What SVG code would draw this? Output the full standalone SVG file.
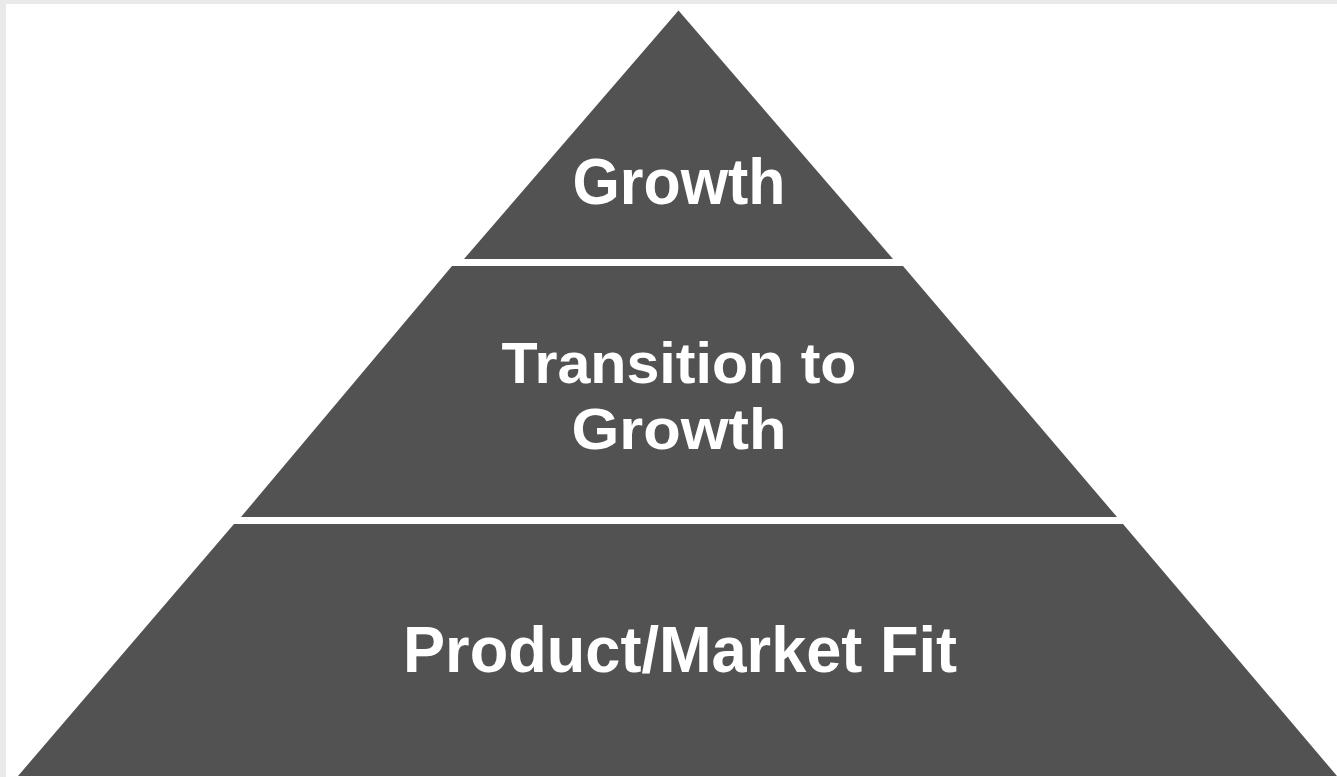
<svg xmlns="http://www.w3.org/2000/svg" width="1337" height="777" viewBox="0 0 1337 777">
  <style>
    .tier { fill: #525252; }
    .label { fill: #ffffff; font-family: "Liberation Sans", Arial, sans-serif; font-weight: bold; font-size: 64px; text-anchor: middle; }
    .label2 { font-size: 58px; }
    .frame { fill: #e9e9e9; }
  </style>
  <rect x="0" y="0" width="1337" height="777" fill="#ffffff"/>
  <rect class="frame" x="0" y="0" width="1337" height="4"/>
  <rect class="frame" x="0" y="0" width="6" height="777"/>
  <g id="tier-growth">
    <polygon class="tier" points="678.5,10.5 893,259 464,259"/>
    <text class="label" x="679" y="204" textLength="213" lengthAdjust="spacingAndGlyphs">Growth</text>
  </g>
  <g id="tier-transition">
    <polygon class="tier" points="452,266 903,266 1117,517 241,517"/>
    <text class="label label2" x="679" y="383" textLength="355" lengthAdjust="spacingAndGlyphs">Transition to</text>
    <text class="label label2" x="679" y="449" textLength="215" lengthAdjust="spacingAndGlyphs">Growth</text>
  </g>
  <g id="tier-pmf">
    <polygon class="tier" points="234,524 1123,524 1337,776 18,776"/>
    <text class="label" x="680" y="672" textLength="554" lengthAdjust="spacingAndGlyphs">Product/Market Fit</text>
  </g>
  <g id="connectors"/>
</svg>
